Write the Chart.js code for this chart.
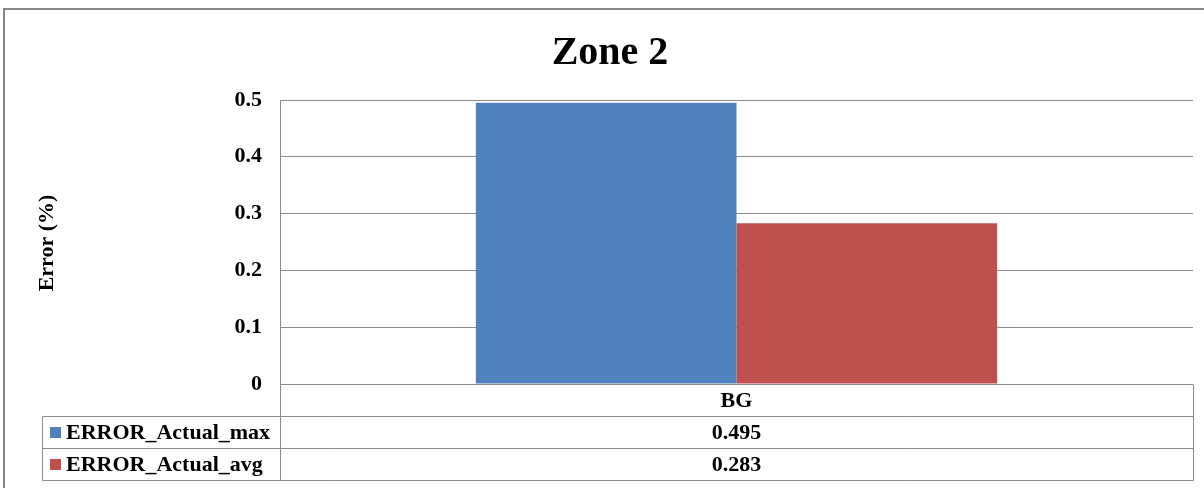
<!DOCTYPE html>
<html>
<head>
<meta charset="utf-8">
<title>Zone 2</title>
<script src="https://cdn.jsdelivr.net/npm/chart.js@4/dist/chart.umd.min.js"></script>
<style>
  html, body { margin: 0; padding: 0; background: #ffffff; }
  #wrap { width: 1204px; height: 488px; position: relative; }
</style>
</head>
<body>
<div id="wrap"><canvas id="chart" width="1204" height="488"></canvas></div>
<script>
// Chart data
const categories = ['BG'];
const seriesNames = ['ERROR_Actual_max', 'ERROR_Actual_avg'];
const errorMax = [0.495];
const errorAvg = [0.283];
const seriesColors = ['#4F81BD', '#C0504D'];
const yTicks = [0, 0.1, 0.2, 0.3, 0.4, 0.5];
const chartTitle = 'Zone 2';
const yAxisTitle = 'Error (%)';

const FONT = '"Liberation Serif", "Times New Roman", serif';
const LINE = '#8c8c8c';

// Frame, title, axis title and the data table under the plot
const decorations = {
  id: 'decorations',
  beforeDraw(chart) {
    const ctx = chart.ctx;
    ctx.save();
    ctx.fillStyle = '#ffffff';
    ctx.fillRect(0, 0, chart.width, chart.height);
    ctx.strokeStyle = '#868686';
    ctx.lineWidth = 2;
    ctx.strokeRect(4, 9, chart.width + 20, chart.height + 20);
    ctx.restore();
  },
  afterDraw(chart) {
    const ctx = chart.ctx;
    const area = chart.chartArea;
    const xs = chart.scales.x;
    ctx.save();

    // title
    ctx.fillStyle = '#000000';
    ctx.font = 'bold 40px ' + FONT;
    ctx.textAlign = 'center';
    ctx.textBaseline = 'alphabetic';
    ctx.fillText(chartTitle, 610, 64);

    // y-axis title
    ctx.save();
    ctx.translate(53, 243);
    ctx.rotate(-Math.PI / 2);
    ctx.font = 'bold 22px ' + FONT;
    ctx.textAlign = 'center';
    ctx.textBaseline = 'alphabetic';
    ctx.fillText(yAxisTitle, 0, 0);
    ctx.restore();

    // data table
    const rowH = 32;
    const top = Math.round(area.bottom);
    const left = 42;
    const axisX = Math.round(area.left) + 0.5;
    const right = Math.round(area.right) + 0.5;
    const rows = [top + rowH, top + 2 * rowH, top + 3 * rowH];

    ctx.strokeStyle = LINE;
    ctx.lineWidth = 1;
    ctx.beginPath();
    rows.forEach(y => {
      ctx.moveTo(left + 0.5, y + 0.5);
      ctx.lineTo(right, y + 0.5);
    });
    ctx.moveTo(left + 0.5, rows[0] + 0.5);
    ctx.lineTo(left + 0.5, rows[2] + 0.5);
    ctx.moveTo(axisX, area.top);
    ctx.lineTo(axisX, rows[2] + 0.5);
    ctx.moveTo(right, top + 0.5);
    ctx.lineTo(right, rows[2] + 0.5);
    ctx.stroke();

    ctx.font = 'bold 22px ' + FONT;
    ctx.fillStyle = '#000000';
    ctx.textBaseline = 'middle';
    ctx.textAlign = 'center';
    categories.forEach((c, i) => {
      const cx = xs.getPixelForValue(i);
      ctx.fillText(c, cx, top + rowH / 2 + 1);
    });

    chart.data.datasets.forEach((ds, di) => {
      const yMid = rows[di] + rowH / 2 + 1;
      ctx.fillStyle = ds.backgroundColor;
      ctx.fillRect(50, yMid - 6, 11, 11);
      ctx.fillStyle = '#000000';
      ctx.textAlign = 'left';
      ctx.fillText(ds.label, 66, yMid);
      ctx.textAlign = 'center';
      ds.data.forEach((v, i) => {
        ctx.fillText(String(v), xs.getPixelForValue(i), yMid);
      });
    });

    ctx.restore();
  }
};

new Chart(document.getElementById('chart'), {
  type: 'bar',
  data: {
    labels: categories,
    datasets: [
      { label: seriesNames[0], data: errorMax, backgroundColor: seriesColors[0] },
      { label: seriesNames[1], data: errorAvg, backgroundColor: seriesColors[1] }
    ]
  },
  options: {
    responsive: false,
    animation: false,
    devicePixelRatio: 1,
    layout: { padding: { left: 0, top: 100, right: 11, bottom: 104 } },
    datasets: {
      bar: { categoryPercentage: 0.571, barPercentage: 1.0, borderWidth: 0 }
    },
    plugins: {
      legend: { display: false },
      title: { display: false },
      tooltip: { enabled: false }
    },
    scales: {
      x: { display: false },
      y: {
        min: 0,
        max: 0.5,
        afterFit(scale) { scale.width = 280; },
        afterBuildTicks(scale) { scale.ticks = yTicks.map(v => ({ value: v })); },
        ticks: {
          padding: 18,
          color: '#000000',
          font: { family: FONT, size: 22, weight: 'bold' },
          callback: v => String(v)
        },
        grid: { color: LINE, lineWidth: 1, drawTicks: false },
        border: { display: true, color: LINE, width: 1 }
      }
    }
  },
  plugins: [decorations]
});
</script>
</body>
</html>
